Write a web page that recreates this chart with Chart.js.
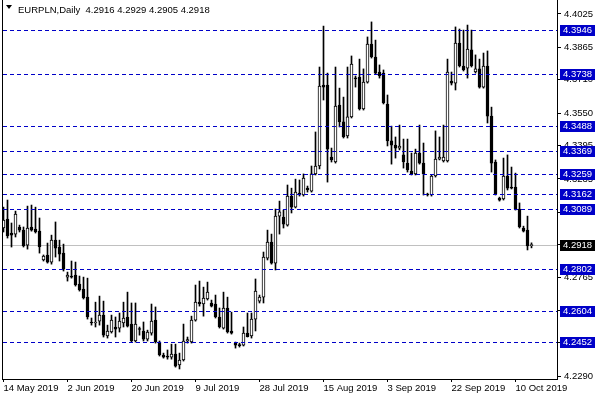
<!DOCTYPE html>
<html>
<head>
<meta charset="utf-8">
<script src="https://cdn.jsdelivr.net/npm/chart.js@4.4.1/dist/chart.umd.min.js"></script>
<style>
  html, body { margin: 0; padding: 0; background: #fff; }
  canvas { display: block; }
</style>
</head>
<body>
<canvas id="chart" width="600" height="400"></canvas>
<script>
// EURPLN daily bars, one slot per bar (bar 0 = 14 May 2019)
const openPrices = [
  4.3000, 4.3043, 4.2976, 4.2971, 4.3005, 4.2990, 4.2918, 4.3005, 4.2995, 4.2985,
  4.2847, 4.2871, 4.2837, 4.2942, 4.2909, 4.2880, 4.2765, 4.2770, 4.2775, 4.2732,
  4.2708, 4.2669, 4.2550, 4.2545, 4.2554, 4.2583, 4.2483, 4.2502, 4.2526, 4.2521,
  4.2545, 4.2574, 4.2540, 4.2459, 4.2516, 4.2507, 4.2468, 4.2497, 4.2559, 4.2454,
  4.2392, 4.2387, 4.2382, 4.2396, 4.2344, 4.2368, 4.2459, 4.2454, 4.2559, 4.2645,
  4.2636, 4.2660, 4.2641, 4.2636, 4.2574, 4.2521, 4.2617, 4.2507, 4.2449, 4.2439,
  4.2439, 4.2497, 4.2483, 4.2564, 4.2650, 4.2669, 4.2856, 4.2933, 4.2832, 4.3057,
  4.3053, 4.3014, 4.3153, 4.3100, 4.3167, 4.3158, 4.3191, 4.3177, 4.3259, 4.3297,
  4.3685, 4.3685, 4.3340, 4.3316, 4.3589, 4.3508, 4.3441, 4.3532, 4.3718, 4.3723,
  4.3570, 4.3699, 4.3881, 4.3819, 4.3747, 4.3742, 4.3594, 4.3417, 4.3397, 4.3383,
  4.3350, 4.3311, 4.3273, 4.3259, 4.3359, 4.3311, 4.3163, 4.3158, 4.3249, 4.3330,
  4.3321, 4.3321, 4.3704, 4.3694, 4.3886, 4.3776, 4.3766, 4.3853, 4.3747, 4.3762,
  4.3675, 4.3776, 4.3536, 4.3316, 4.3144, 4.3139, 4.3249, 4.3196, 4.3196, 4.3091,
  4.3000, 4.2990, 4.2916
];
const highPrices = [
  4.3100, 4.3134, 4.3024, 4.3081, 4.3014, 4.3005, 4.3105, 4.3110, 4.3100, 4.3048,
  4.2871, 4.2928, 4.2966, 4.3029, 4.2942, 4.2923, 4.2789, 4.2842, 4.2837, 4.2770,
  4.2765, 4.2760, 4.2569, 4.2645, 4.2674, 4.2650, 4.2535, 4.2583, 4.2574, 4.2593,
  4.2645, 4.2693, 4.2641, 4.2641, 4.2526, 4.2550, 4.2511, 4.2636, 4.2622, 4.2459,
  4.2401, 4.2416, 4.2444, 4.2444, 4.2401, 4.2540, 4.2478, 4.2578, 4.2727, 4.2746,
  4.2717, 4.2741, 4.2655, 4.2679, 4.2617, 4.2693, 4.2669, 4.2597, 4.2454, 4.2449,
  4.2526, 4.2593, 4.2593, 4.2756, 4.2679, 4.2885, 4.2990, 4.2971, 4.3091, 4.3129,
  4.3086, 4.3206, 4.3191, 4.3234, 4.3230, 4.3259, 4.3201, 4.3297, 4.3460, 4.3771,
  4.3967, 4.3742, 4.3383, 4.3771, 4.3670, 4.3627, 4.3771, 4.3824, 4.3728, 4.3809,
  4.3762, 4.3915, 4.3987, 4.3900, 4.3781, 4.3757, 4.3637, 4.3488, 4.3436, 4.3493,
  4.3426, 4.3426, 4.3359, 4.3378, 4.3493, 4.3407, 4.3167, 4.3254, 4.3465, 4.3436,
  4.3493, 4.3809, 4.3747, 4.3963, 4.3953, 4.3948, 4.3972, 4.3948, 4.3829, 4.3809,
  4.3838, 4.3848, 4.3579, 4.3326, 4.3148, 4.3335, 4.3350, 4.3292, 4.3263, 4.3120,
  4.3009, 4.3057, 4.2929
];
const lowPrices = [
  4.2981, 4.2952, 4.2909, 4.2957, 4.2981, 4.2909, 4.2899, 4.2985, 4.2976, 4.2880,
  4.2842, 4.2832, 4.2827, 4.2861, 4.2842, 4.2794, 4.2746, 4.2760, 4.2722, 4.2698,
  4.2660, 4.2564, 4.2535, 4.2526, 4.2535, 4.2478, 4.2473, 4.2497, 4.2478, 4.2502,
  4.2526, 4.2526, 4.2454, 4.2454, 4.2487, 4.2459, 4.2459, 4.2487, 4.2449, 4.2387,
  4.2377, 4.2372, 4.2372, 4.2334, 4.2325, 4.2363, 4.2449, 4.2449, 4.2554, 4.2626,
  4.2578, 4.2655, 4.2622, 4.2569, 4.2521, 4.2516, 4.2497, 4.2492, 4.2425, 4.2430,
  4.2435, 4.2478, 4.2473, 4.2507, 4.2641, 4.2641, 4.2847, 4.2827, 4.2799, 4.2971,
  4.3000, 4.3009, 4.3072, 4.3096, 4.3153, 4.3153, 4.3172, 4.3172, 4.3254, 4.3283,
  4.3613, 4.3220, 4.3316, 4.3311, 4.3484, 4.3431, 4.3431, 4.3527, 4.3675, 4.3565,
  4.3565, 4.3694, 4.3814, 4.3738, 4.3718, 4.3594, 4.3393, 4.3306, 4.3335, 4.3374,
  4.3287, 4.3268, 4.3254, 4.3254, 4.3306, 4.3158, 4.3153, 4.3153, 4.3244, 4.3326,
  4.3316, 4.3316, 4.3685, 4.3661, 4.3771, 4.3752, 4.3718, 4.3771, 4.3742, 4.3670,
  4.3670, 4.3503, 4.3268, 4.3158, 4.3129, 4.3134, 4.3182, 4.3187, 4.3086, 4.3000,
  4.2981, 4.2895, 4.2905
];
const closePrices = [
  4.3038, 4.2962, 4.2966, 4.3067, 4.2990, 4.2914, 4.3000, 4.2990, 4.2981, 4.2909,
  4.2866, 4.2837, 4.2942, 4.2904, 4.2875, 4.2803, 4.2775, 4.2765, 4.2727, 4.2703,
  4.2665, 4.2574, 4.2545, 4.2550, 4.2583, 4.2487, 4.2507, 4.2559, 4.2516, 4.2554,
  4.2569, 4.2530, 4.2459, 4.2540, 4.2514, 4.2468, 4.2502, 4.2554, 4.2454, 4.2392,
  4.2382, 4.2382, 4.2396, 4.2339, 4.2368, 4.2459, 4.2466, 4.2559, 4.2645, 4.2636,
  4.2665, 4.2693, 4.2626, 4.2574, 4.2526, 4.2617, 4.2502, 4.2497, 4.2439, 4.2437,
  4.2497, 4.2480, 4.2564, 4.2698, 4.2669, 4.2861, 4.2933, 4.2832, 4.3057, 4.3077,
  4.3019, 4.3153, 4.3100, 4.3172, 4.3158, 4.3239, 4.3182, 4.3259, 4.3297, 4.3680,
  4.3675, 4.3378, 4.3326, 4.3584, 4.3508, 4.3436, 4.3532, 4.3785, 4.3714, 4.3570,
  4.3699, 4.3881, 4.3819, 4.3742, 4.3728, 4.3599, 4.3417, 4.3397, 4.3383, 4.3393,
  4.3316, 4.3278, 4.3259, 4.3359, 4.3311, 4.3259, 4.3158, 4.3249, 4.3330, 4.3340,
  4.3340, 4.3747, 4.3694, 4.3886, 4.3776, 4.3757, 4.3857, 4.3776, 4.3762, 4.3675,
  4.3776, 4.3536, 4.3311, 4.3163, 4.3134, 4.3249, 4.3191, 4.3191, 4.3091, 4.3005,
  4.2985, 4.2914, 4.2918
];

// time axis labels, every 16 bars
const dateLabelBars = [0, 16, 32, 48, 64, 80, 96, 112, 128];
const dateLabels = ['14 May 2019', '2 Jun 2019', '20 Jun 2019', '9 Jul 2019', '28 Jul 2019',
  '15 Aug 2019', '3 Sep 2019', '22 Sep 2019', '10 Oct 2019'];

// price scale
const priceTicks = [4.4025, 4.3865, 4.3710, 4.3550, 4.3395, 4.3235, 4.3075,
  4.2920, 4.2765, 4.2605, 4.2450, 4.2290];
const levelLines = [4.3946, 4.3738, 4.3488, 4.3369, 4.3259, 4.3162, 4.3089,
  4.2802, 4.2604, 4.2452];
const bidPrice = 4.2918;
const headerText = 'EURPLN,Daily  4.2916 4.2929 4.2905 4.2918';

const FONT = '9.5px "Liberation Sans", Arial, sans-serif';
const LEVEL_BLUE = '#0000c8';

const barIndex = openPrices.map((_, i) => i);
const bodyColors = barIndex.map((i) => (closePrices[i] >= openPrices[i] ? '#ffffff' : '#000000'));

// horizontal levels, price boxes and the header text
const levelsPlugin = {
  id: 'levels',
  beforeDatasetsDraw(chart) {
    const { ctx, chartArea, scales } = chart;
    const py = Math.round(scales.y.getPixelForValue(bidPrice)) + 0.5;
    ctx.save();
    ctx.strokeStyle = '#c0c0c0';
    ctx.lineWidth = 1;
    ctx.beginPath();
    ctx.moveTo(chartArea.left, py);
    ctx.lineTo(chartArea.right, py);
    ctx.stroke();
    ctx.restore();
  },
  afterDatasetsDraw(chart) {
    const { ctx, chartArea, scales } = chart;
    ctx.save();
    ctx.strokeStyle = LEVEL_BLUE;
    ctx.lineWidth = 1;
    ctx.setLineDash([4, 3]);
    for (const level of levelLines) {
      const py = Math.round(scales.y.getPixelForValue(level)) + 0.5;
      ctx.beginPath();
      ctx.moveTo(chartArea.left + 1, py);
      ctx.lineTo(chartArea.right, py);
      ctx.stroke();
    }
    ctx.restore();
  },
  afterDraw(chart) {
    const { ctx, chartArea, scales } = chart;
    ctx.save();
    // left border
    ctx.strokeStyle = '#000';
    ctx.lineWidth = 1;
    ctx.beginPath();
    ctx.moveTo(chartArea.left + 0.5, 0);
    ctx.lineTo(chartArea.left + 0.5, chartArea.bottom);
    ctx.stroke();

    // price boxes on the right scale
    ctx.font = FONT;
    ctx.textBaseline = 'middle';
    ctx.textAlign = 'left';
    const boxes = levelLines.map((v) => ({ v, bg: LEVEL_BLUE })).concat([{ v: bidPrice, bg: '#000' }]);
    for (const box of boxes) {
      const py = Math.round(scales.y.getPixelForValue(box.v));
      ctx.fillStyle = box.bg;
      ctx.fillRect(chartArea.right + 3, py - 5, 35, 11);
      ctx.fillStyle = '#fff';
      ctx.fillText(box.v.toFixed(4), chartArea.right + 6, py + 0.5);
    }

    // header
    ctx.fillStyle = '#000';
    ctx.beginPath();
    ctx.moveTo(6, 5);
    ctx.lineTo(12, 5);
    ctx.lineTo(9, 9);
    ctx.closePath();
    ctx.fill();
    ctx.fillText(headerText, 18, 10);
    ctx.restore();
  }
};

new Chart(document.getElementById('chart'), {
  type: 'bar',
  data: {
    datasets: [
      {
        label: 'body',
        data: barIndex.map((i) => ({ x: i, y: [openPrices[i], closePrices[i]] })),
        backgroundColor: bodyColors,
        borderColor: '#000',
        borderWidth: 1,
        borderSkipped: false,
        barThickness: 3,
        minBarLength: 1,
        grouped: false,
        order: 1
      },
      {
        label: 'wick',
        data: barIndex.map((i) => ({ x: i, y: [lowPrices[i], highPrices[i]] })),
        backgroundColor: '#000',
        borderWidth: 0,
        barThickness: 1,
        grouped: false,
        order: 2
      }
    ]
  },
  options: {
    responsive: false,
    animation: false,
    events: [],
    layout: { padding: { left: 2, top: 0, right: 0, bottom: 0 } },
    plugins: { legend: { display: false }, tooltip: { enabled: false } },
    scales: {
      x: {
        type: 'linear',
        position: 'bottom',
        min: -0.375,
        max: 138.375,
        offset: false,
        grid: { display: true, drawOnChartArea: false, drawTicks: true, tickLength: 3, tickColor: '#000', offset: false },
        border: { display: true, color: '#000', width: 1 },
        ticks: {
          align: 'start',
          autoSkip: false,
          maxRotation: 0,
          padding: 1,
          color: '#000',
          font: { family: '"Liberation Sans", Arial, sans-serif', size: 9.5 },
          callback: (v) => dateLabels[dateLabelBars.indexOf(v)]
        },
        afterBuildTicks: (scale) => { scale.ticks = dateLabelBars.map((v) => ({ value: v })); },
        afterFit: (scale) => { scale.height = 21; scale.paddingLeft = 0; scale.paddingRight = 0; }
      },
      y: {
        type: 'linear',
        position: 'right',
        min: 4.2277,
        max: 4.4092,
        grid: { display: true, drawOnChartArea: false, drawTicks: true, tickLength: 4, tickColor: '#000' },
        border: { display: true, color: '#000', width: 1 },
        ticks: {
          padding: 3,
          color: '#000',
          font: { family: '"Liberation Sans", Arial, sans-serif', size: 9.5 },
          callback: (v) => v.toFixed(4)
        },
        afterBuildTicks: (scale) => { scale.ticks = priceTicks.map((v) => ({ value: v })); },
        afterFit: (scale) => { scale.width = 43; scale.paddingTop = 0; scale.paddingBottom = 0; }
      }
    }
  },
  plugins: [levelsPlugin]
});
</script>
</body>
</html>
